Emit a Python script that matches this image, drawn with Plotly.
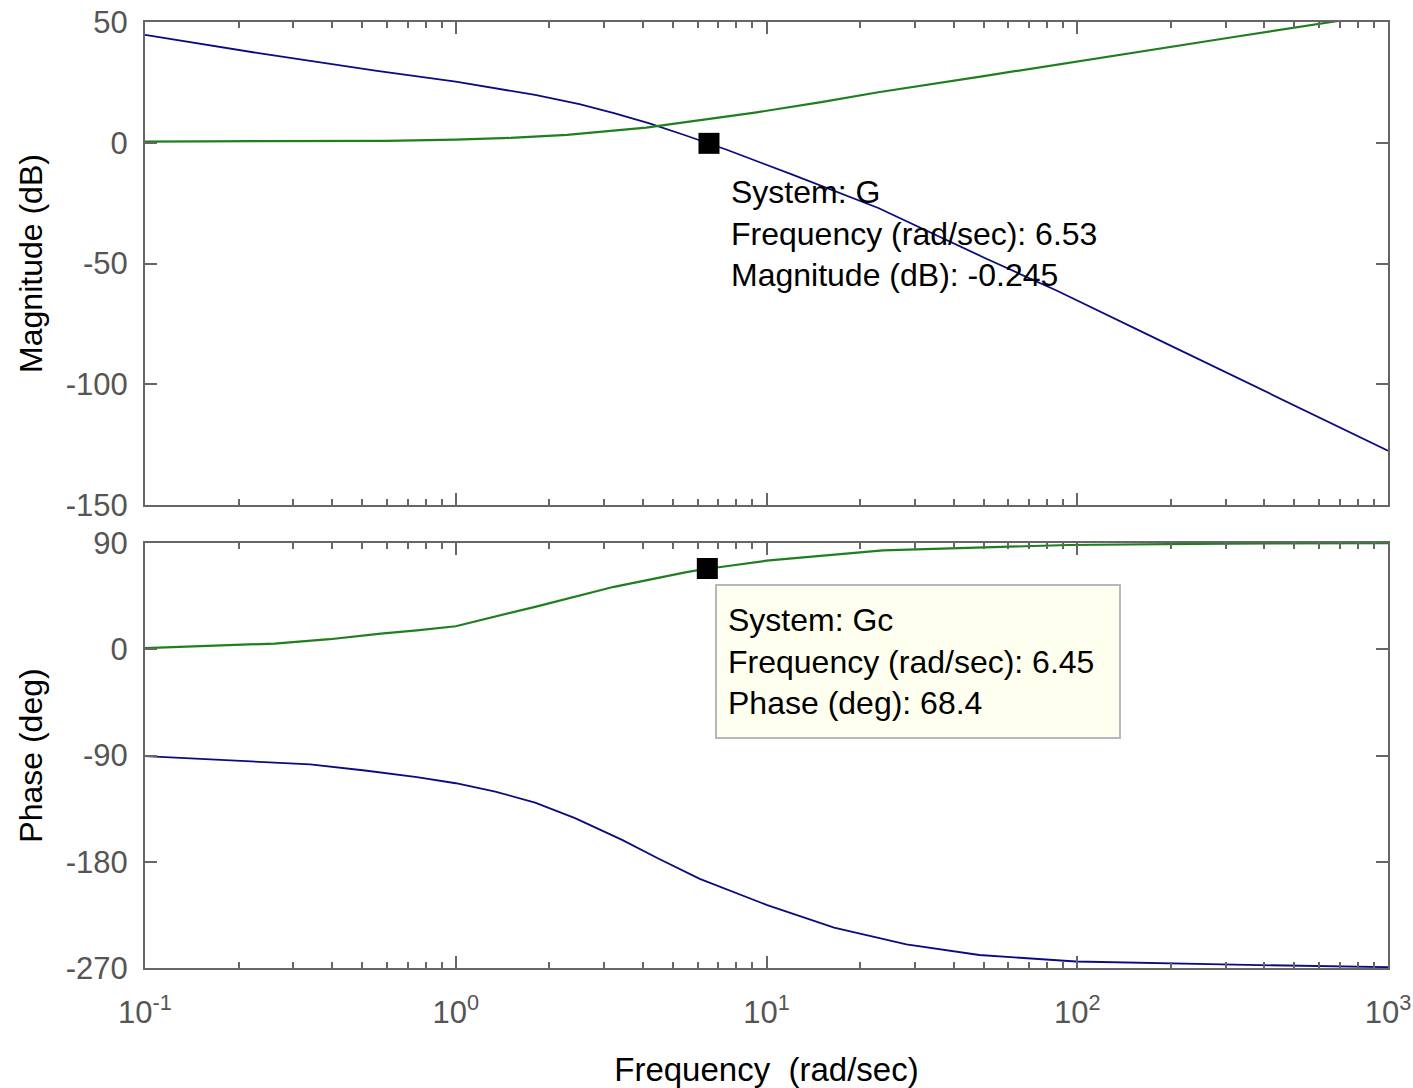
import plotly.graph_objects as go

# ---------------- data ----------------
# System G : magnitude
g_mag_w = [0.1, 0.232, 0.558, 1.0, 1.8, 2.5, 3.23, 4.2, 5.47, 6.53, 7.45, 12.0, 22.9, 50.0, 86.1, 180.0, 323.0, 600.0, 1000.0]
g_mag_db = [44.7, 37.1, 29.8, 25.3, 19.8, 16.0, 12.3, 8.0, 3.1, -0.245, -2.9, -13.0, -27.0, -47.5, -61.3, -81.2, -97.0, -113.5, -127.5]

# System Gc : magnitude
gc_mag_w = [0.1, 0.3, 0.6, 1.0, 1.5, 2.28, 3.2, 4.1, 5.0, 6.11, 9.3, 15.0, 22.9, 50.0, 86.1, 200.0, 323.0, 627.0, 1000.0]
gc_mag_db = [0.5, 0.6, 0.8, 1.3, 2.0, 3.3, 4.9, 6.3, 7.8, 9.4, 12.6, 16.8, 20.9, 27.6, 32.4, 39.6, 43.9, 49.6, 53.7]

# System G : phase
g_ph_w = [0.1, 0.19, 0.34, 0.51, 0.75, 1.0, 1.34, 1.8, 2.42, 3.43, 4.5, 6.1, 10.0, 16.5, 28.2, 48.4, 99.0, 292.0, 1000.0]
g_ph_deg = [-90.6, -94.2, -97.5, -102.7, -108.4, -113.5, -120.5, -130.0, -143.0, -161.5, -177.5, -194.5, -216.5, -235.8, -249.9, -259.0, -264.5, -267.0, -269.3]

# System Gc : phase
gc_ph_w = [0.1, 0.145, 0.261, 0.393, 0.574, 0.75, 1.0, 1.8, 3.23, 5.48, 6.45, 7.12, 10.0, 23.7, 50.0, 94.0, 300.0, 1000.0]
gc_ph_deg = [1.0, 2.5, 4.8, 8.5, 13.3, 16.0, 19.5, 35.9, 52.9, 65.1, 68.4, 69.7, 75.0, 83.8, 86.5, 88.3, 89.5, 89.8]

# data tips
tip_mag = {"system": "G", "freq": 6.53, "value": -0.245}
tip_ph = {"system": "Gc", "freq": 6.45, "value": 68.4}

# axis ticks
x_tick_vals = [0.1, 1, 10, 100, 1000]
x_tick_text = ["10<sup>-1</sup>", "10<sup>0</sup>", "10<sup>1</sup>", "10<sup>2</sup>", "10<sup>3</sup>"]
mag_ticks = [-150, -100, -50, 0, 50]
mag_tick_text = ["-150", "-100", "-50", "0", "50"]
ph_ticks = [-270, -180, -90, 0, 90]
ph_tick_text = ["-270", "-180", "-90", "0", "90"]

# ---------------- styling ----------------
FONT = "Liberation Sans, Arial, sans-serif"
AX = "#666666"
TICKFONT = dict(family=FONT, size=31, color="#555555")
TITLEFONT = dict(family=FONT, size=32, color="black")
BLUE = "#0b0b80"
GREEN = "#1f7f1f"

minor_vals = [m * 10 ** k for k in range(-1, 3) for m in range(2, 10)]

# page layout (window 1413 x 1088, body margin removed)
FIG_W, FIG_H = 1413, 1088
L, R, T, B = 145, 1388, 22, 968          # plot box in page pixels
W, H = R - L, B - T


def px(x):
    return (x - L) / W


def py(y):
    return (B - y) / H


def xaxis_common(**kw):
    d = dict(
        type="log", range=[-1, 3], showline=True, linecolor=AX, linewidth=2,
        mirror="allticks", ticks="inside", ticklen=12, tickwidth=1.5, tickcolor=AX,
        tickvals=x_tick_vals, ticktext=x_tick_text, showgrid=False, zeroline=False,
        tickfont=TICKFONT, ticklabeloverflow="allow",
        minor=dict(ticks="inside", ticklen=6, tickwidth=1.5, tickcolor=AX,
                   tickvals=minor_vals, showgrid=False),
    )
    d.update(kw)
    return d


def yaxis_common(**kw):
    d = dict(
        showline=True, linecolor=AX, linewidth=2, mirror="allticks",
        ticks="inside", ticklen=12, tickwidth=1.5, tickcolor=AX,
        showgrid=False, zeroline=False, tickfont=TICKFONT, ticklabelstandoff=9,
        ticklabeloverflow="allow",
    )
    d.update(kw)
    return d


fig = go.Figure()

fig.add_trace(go.Scatter(x=g_mag_w, y=g_mag_db, mode="lines", name="G",
                         line=dict(color=BLUE, width=1.8), xaxis="x", yaxis="y"))
fig.add_trace(go.Scatter(x=gc_mag_w, y=gc_mag_db, mode="lines", name="Gc",
                         line=dict(color=GREEN, width=2.2), xaxis="x", yaxis="y"))
fig.add_trace(go.Scatter(x=g_ph_w, y=g_ph_deg, mode="lines", name="G",
                         line=dict(color=BLUE, width=1.8), xaxis="x2", yaxis="y2"))
fig.add_trace(go.Scatter(x=gc_ph_w, y=gc_ph_deg, mode="lines", name="Gc",
                         line=dict(color=GREEN, width=2.2), xaxis="x2", yaxis="y2"))

# data-tip markers
fig.add_trace(go.Scatter(x=[tip_mag["freq"]], y=[tip_mag["value"]], mode="markers",
                         marker=dict(symbol="square", size=21, color="black"),
                         xaxis="x", yaxis="y"))
fig.add_trace(go.Scatter(x=[tip_ph["freq"]], y=[tip_ph["value"]], mode="markers",
                         marker=dict(symbol="square", size=21, color="black"),
                         xaxis="x2", yaxis="y2"))

tipfont = dict(family=FONT, size=32, color="black")

annotations = [
    dict(xref="paper", yref="paper", x=px(729), y=py(234), xanchor="left", yanchor="middle",
         align="left", showarrow=False, font=tipfont,
         text=f"System: {tip_mag['system']}<br>Frequency (rad/sec): {tip_mag['freq']}"
              f"<br>Magnitude (dB): {tip_mag['value']}"),
    dict(xref="paper", yref="paper", x=px(726), y=py(661), xanchor="left", yanchor="middle",
         align="left", showarrow=False, font=tipfont,
         text=f"System: {tip_ph['system']}<br>Frequency (rad/sec): {tip_ph['freq']}"
              f"<br>Phase (deg): {tip_ph['value']}"),
]

shapes = [
    dict(type="rect", xref="paper", yref="paper", x0=px(716), x1=px(1120), y0=py(738), y1=py(585),
         fillcolor="#fffff0", line=dict(color="#b8b8b8", width=2), layer="above"),
]

fig.update_layout(
    width=FIG_W, height=FIG_H,
    margin=dict(l=L, r=FIG_W - R, t=T, b=FIG_H - B, autoexpand=False),
    paper_bgcolor="white", plot_bgcolor="white",
    showlegend=False,
    font=dict(family=FONT, size=30, color="black"),
    xaxis=xaxis_common(domain=[0, 1], anchor="y", showticklabels=False),
    yaxis=yaxis_common(domain=[py(505), 1], anchor="x", range=[-150, 50],
                       tickvals=mag_ticks, ticktext=mag_tick_text,
                       title=dict(text="Magnitude (dB)", standoff=14, font=TITLEFONT)),
    xaxis2=xaxis_common(domain=[0, 1], anchor="y2", ticklabelstandoff=16,
                        title=dict(text="Frequency\u00a0 (rad/sec)", standoff=30,
                                   font=dict(family=FONT, size=33, color="black"))),
    yaxis2=yaxis_common(domain=[0, py(543)], anchor="x2", range=[-270, 90],
                        tickvals=ph_ticks, ticktext=ph_tick_text,
                        title=dict(text="Phase (deg)", standoff=14, font=TITLEFONT)),
    annotations=annotations,
    shapes=shapes,
)

fig.write_html(
    "out.html",
    config={"displayModeBar": False},
    post_script="document.body.style.margin='0';document.body.style.overflow='hidden';",
)
